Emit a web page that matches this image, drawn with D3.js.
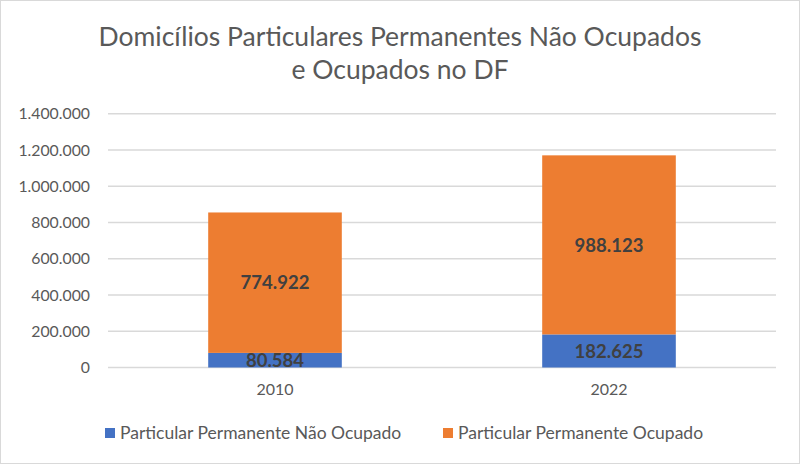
<!DOCTYPE html>
<html><head><meta charset="utf-8">
<script src="https://cdn.jsdelivr.net/npm/d3@7"></script>
<style>body{margin:0;background:#fff}svg{display:block}</style>
</head><body>
<svg id="c" width="800" height="464"></svg>
<script>
const categories = ["2010", "2022"];
const seriesNames = ["Particular Permanente Não Ocupado", "Particular Permanente Ocupado"];
const naoOcupado = [80584, 182625];
const ocupado = [774922, 988123];
const yTicks = [0, 200000, 400000, 600000, 800000, 1000000, 1200000, 1400000];
const colors = ["#4472C4", "#ED7D31"];

const locale = d3.formatLocale({decimal: ",", thousands: ".", grouping: [3], currency: ["R$", ""]});
const fmt = locale.format(",d");
const FONT = "Lato, 'Open Sans', sans-serif";

const svg = d3.select("#c");
svg.append("rect").attr("x", 0.5).attr("y", 0.5).attr("width", 799).attr("height", 463)
  .attr("fill", "#fff").attr("stroke", "#d9d9d9");

const plotL = 108, plotR = 776, plotT = 113.8, plotB = 367.5;
const x = d3.scaleBand().domain(categories).range([plotL, plotR]).padding(0);
const y = d3.scaleLinear().domain([0, 1400000]).range([plotB, plotT]);

// title
const title = svg.append("text").attr("text-anchor", "middle").attr("fill", "#595959")
  .style("font-family", FONT).style("font-size", "26.5px");
title.append("tspan").attr("x", 400).attr("y", 46).text("Domicílios Particulares Permanentes Não Ocupados");
title.append("tspan").attr("x", 400).attr("y", 79).text("e Ocupados no DF");

// gridlines
svg.append("g").selectAll("line").data(yTicks).join("line")
  .attr("x1", plotL).attr("x2", plotR).attr("y1", d => y(d)).attr("y2", d => y(d))
  .attr("stroke", "#d9d9d9").attr("stroke-width", 1.5);

// y axis labels
const yAxis = svg.append("g").attr("transform", `translate(${plotL},0)`)
  .call(d3.axisLeft(y).tickValues(yTicks).tickFormat(d => fmt(d)).tickSize(0).tickPadding(18));
yAxis.select(".domain").remove();
yAxis.selectAll("text").attr("fill", "#595959").style("font-family", FONT).style("font-size", "15.8px");

// x axis labels
const xAxis = svg.append("g").attr("transform", `translate(0,${plotB})`)
  .call(d3.axisBottom(x).tickSize(0).tickPadding(16));
xAxis.select(".domain").remove();
xAxis.selectAll("text").attr("fill", "#595959").style("font-family", FONT).style("font-size", "16px");

// stacked data
const rows = categories.map((c, i) => ({cat: c, a: naoOcupado[i], b: ocupado[i]}));
const stack = d3.stack().keys(["a", "b"])(rows);
const bw = x.bandwidth() * 0.4;
stack.forEach((s, si) => {
  const g = svg.append("g");
  g.selectAll("rect").data(s).join("rect")
    .attr("x", d => x(d.data.cat) + x.bandwidth() / 2 - bw / 2)
    .attr("width", bw)
    .attr("y", d => y(d[1]))
    .attr("height", d => y(d[0]) - y(d[1]))
    .attr("fill", colors[si]);
  g.selectAll("text").data(s).join("text")
    .attr("x", d => x(d.data.cat) + x.bandwidth() / 2)
    .attr("y", d => (y(d[0]) + y(d[1])) / 2)
    .attr("dy", "0.36em")
    .attr("text-anchor", "middle")
    .attr("fill", "#404040")
    .style("font-family", FONT).style("font-size", "18.5px").style("font-weight", "bold")
    .text(d => fmt(d[1] - d[0]));
});

// legend
const legendX = [105, 443];
const lg = svg.append("g");
seriesNames.forEach((n, i) => {
  lg.append("rect").attr("x", legendX[i]).attr("y", 428).attr("width", 10).attr("height", 10).attr("fill", colors[i]);
  lg.append("text").attr("x", legendX[i] + 15).attr("y", 439)
    .attr("fill", "#595959").style("font-family", FONT).style("font-size", "17.5px").text(n);
});
</script>
</body></html>
